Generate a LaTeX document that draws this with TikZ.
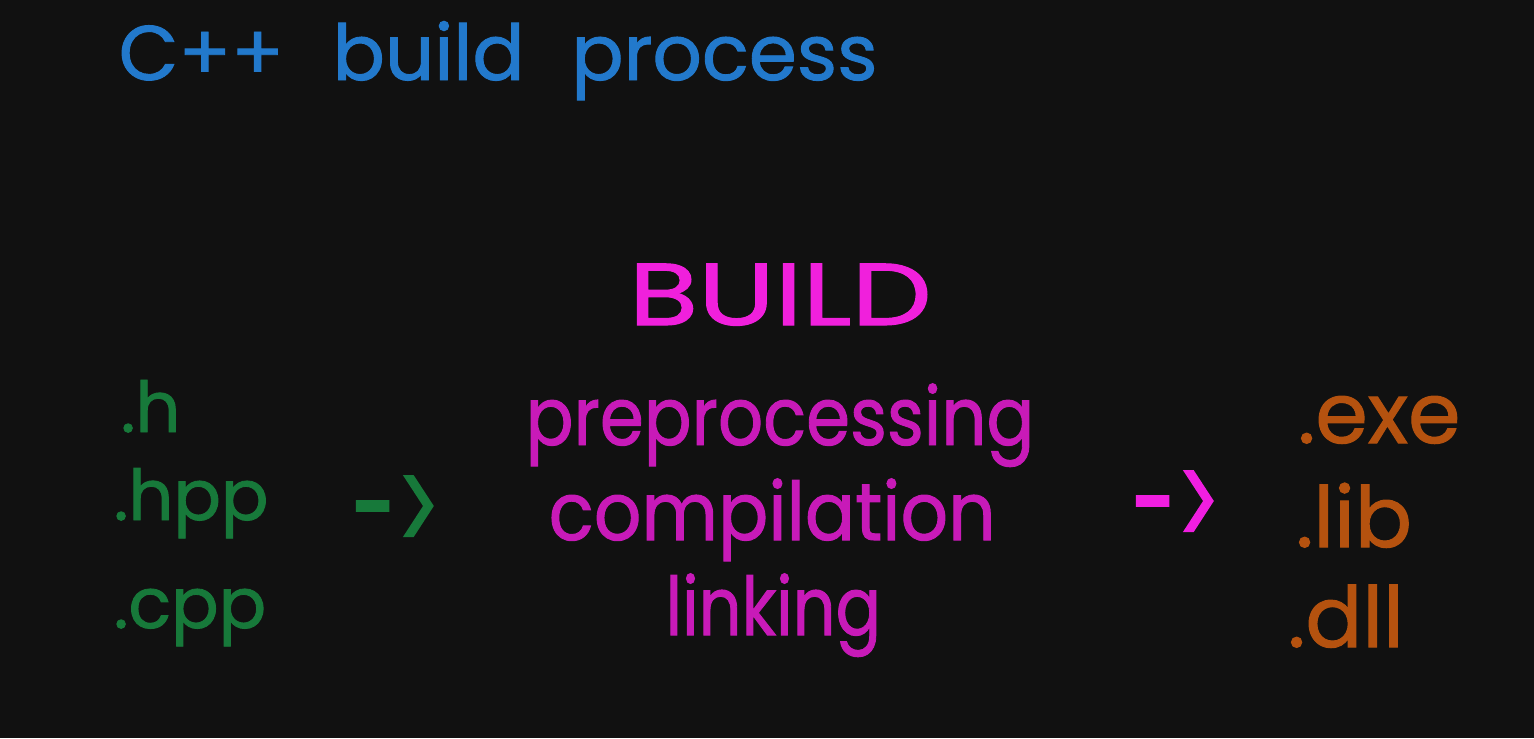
\documentclass[tikz,border=0pt]{standalone}
\usepackage{fontspec}
\setmainfont{Poppins}[UprightFeatures={FakeBold=1.2}]
\definecolor{bg}{HTML}{111111}
\definecolor{titleblue}{HTML}{2279CC}
\definecolor{srcgreen}{HTML}{17793A}
\definecolor{buildpink}{HTML}{F020DC}
\definecolor{stepmag}{HTML}{C81AB8}
\definecolor{arrowpink}{HTML}{F01EE0}
\definecolor{outorange}{HTML}{B5520F}
\tikzset{
  lbl/.style={inner sep=0pt, anchor=base west},
  titletext/.style={lbl, text=titleblue, font=\fontsize{22}{26}\selectfont},
  buildtext/.style={lbl, text=buildpink, font=\fontsize{25}{30}\selectfont},
  steptext/.style={lbl, text=stepmag, font=\fontsize{23}{27}\selectfont},
  srctext/.style={lbl, text=srcgreen, font=\fontsize{20}{24}\selectfont},
  outtext/.style={lbl, text=outorange, font=\fontsize{24}{28}\selectfont},
  arrtext/.style={inner sep=0pt, anchor=center, font=\fontsize{22}{26}\selectfont},
}
\begin{document}
\begin{tikzpicture}
\fill[bg] (0,0) rectangle (15.34,7.38);
\useasboundingbox (0,0) rectangle (15.34,7.38);
\node[titletext] (title) at (1.18,6.58) {C++\hspace{0.28cm} build\hspace{0.26cm} process};
\node[buildtext] (build) at (6.28,4.13) {\scalebox{1.29}[1]{BUILD}};
\node[steptext] (pre) at (5.25,2.93) {\scalebox{0.875}[1]{preprocessing}};
\node[steptext] (comp) at (5.48,1.98) {\scalebox{0.92}[1]{compilation}};
\node[steptext] (link) at (6.65,1.03) {\scalebox{0.83}[1]{linking}};
\node[srctext] (h) at (1.20,3.06) {.h};
\node[srctext] (hpp) at (1.13,2.18) {.hpp};
\node[srctext] (cpp) at (1.13,1.10) {.cpp};
\node[arrtext, text=srcgreen] (arrin) at (3.96,2.23) {\scalebox{1.05}[1.7]{->}};
\node[arrtext, text=arrowpink] (arrout) at (11.76,2.28) {\scalebox{1.05}[1.7]{->}};
\node[outtext] (exe) at (12.97,2.95) {.exe};
\node[outtext] (lib) at (12.95,1.91) {.lib};
\node[outtext] (dll) at (12.87,0.91) {.dll};
\end{tikzpicture}
\end{document}
